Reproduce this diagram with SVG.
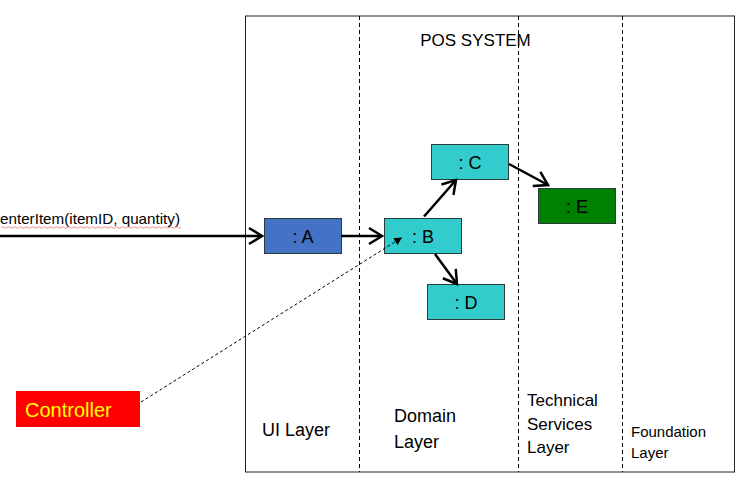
<svg xmlns="http://www.w3.org/2000/svg" width="750" height="490" viewBox="0 0 750 490">
<defs>
<style>
text{font-family:"Liberation Sans",Arial,sans-serif;fill:#000}
.box{stroke:#2b3a3a;stroke-width:1}
.cyan{fill:#33CCCC}
.lbl{font-size:18px;text-anchor:middle}
.sep{stroke:#000;stroke-width:1;stroke-dasharray:4 3;fill:none}
.msg{stroke:#000;stroke-width:2.5;fill:none;marker-end:url(#open)}
.layer{font-size:18px}
</style>
<marker id="open" markerUnits="userSpaceOnUse" markerWidth="20" markerHeight="20" viewBox="-15 -10 17 20" refX="0" refY="0" orient="auto">
<path d="M-13,-8 L0,0 L-13,8" fill="none" stroke="#000" stroke-width="2.5" stroke-linejoin="miter"/>
</marker>
<marker id="small" markerUnits="userSpaceOnUse" markerWidth="10" markerHeight="10" viewBox="-8 -4 9 8" refX="0" refY="0" orient="auto">
<path d="M-7,-3.5 L0,0 L-7,3.5 Z" fill="#000"/>
</marker>
</defs>

<g id="system">
<rect x="245.5" y="16" width="489" height="456" fill="#fff" stroke="#222" stroke-width="1"/>
<text x="475.5" y="46" font-size="17" text-anchor="middle">POS SYSTEM</text>
</g>

<g id="separators">
<line class="sep" x1="359.5" y1="16" x2="359.5" y2="472"/>
<line class="sep" x1="518.5" y1="16" x2="518.5" y2="472"/>
<line class="sep" x1="622.5" y1="16" x2="622.5" y2="472"/>
</g>

<g id="layer-labels">
<text class="layer" x="262" y="436" font-size="18.5">UI Layer</text>
<text class="layer" x="394" y="422" font-size="19.5">Domain</text>
<text class="layer" x="394" y="448" font-size="19.5">Layer</text>
<text x="527" y="406" font-size="17">Technical</text>
<text x="527" y="429.5" font-size="17">Services</text>
<text x="527" y="453" font-size="17">Layer</text>
<text x="631" y="437" font-size="15">Foundation</text>
<text x="631" y="458" font-size="15">Layer</text>
</g>

<g id="nodeA">
<rect class="box" x="264.5" y="218.5" width="77" height="35" fill="#4472C4"/>
<text class="lbl" x="303" y="243">: A</text>
</g>
<g id="nodeB">
<rect class="box cyan" x="384.5" y="218.5" width="77" height="35"/>
<text class="lbl" x="423" y="243">: B</text>
</g>
<g id="nodeC">
<rect class="box cyan" x="431.5" y="144.5" width="77" height="35"/>
<text class="lbl" x="470" y="169">: C</text>
</g>
<g id="nodeD">
<rect class="box cyan" x="427.5" y="284.5" width="77" height="35"/>
<text class="lbl" x="466" y="309">: D</text>
</g>
<g id="nodeE">
<rect class="box" x="538.5" y="188.5" width="77" height="35" fill="#008000"/>
<text class="lbl" x="577" y="213">: E</text>
</g>
<g id="controller">
<rect x="16" y="391" width="124" height="36" fill="#FF0000"/>
<text x="25" y="417" font-size="20" style="fill:#FFFF00">Controller</text>
</g>

<g id="connectors">
<line class="msg" x1="0" y1="236" x2="262" y2="236"/>
<text x="0" y="224" font-size="15" textLength="180" lengthAdjust="spacingAndGlyphs">enterItem(itemID, quantity)</text>
<path d="M1,227.5 q1.5,-1.5 3,0 t3,0 t3,0 t3,0 t3,0 t3,0 t3,0 t3,0 t3,0 t3,0 t3,0 t3,0 t3,0 t3,0 t3,0 t3,0 t3,0 t3,0 t3,0 t3,0 t3,0 t3,0 t3,0 t3,0 t3,0 t3,0 t3,0 t3,0 t3,0 t3,0 t3,0 t3,0 t3,0 t3,0 t3,0 t3,0 t3,0 t3,0 t3,0 t3,0 t3,0 t3,0 t3,0 t3,0 t3,0 t3,0 t3,0 t3,0 t3,0 t3,0 t3,0 t3,0 t3,0 t3,0 t3,0 t3,0 t3,0 t3,0 t3,0 t3,0" fill="none" stroke="#e06060" stroke-width="0.7"/>
<line class="msg" x1="341" y1="236" x2="382" y2="236"/>
<line class="msg" x1="424" y1="216.5" x2="456" y2="180"/>
<line class="msg" x1="509" y1="164" x2="548" y2="185"/>
<line class="msg" x1="435" y1="254" x2="457" y2="284"/>
<line x1="141" y1="402" x2="402" y2="237.5" stroke="#000" stroke-width="1" stroke-dasharray="3 2.5" marker-end="url(#small)"/>
</g>
</svg>
